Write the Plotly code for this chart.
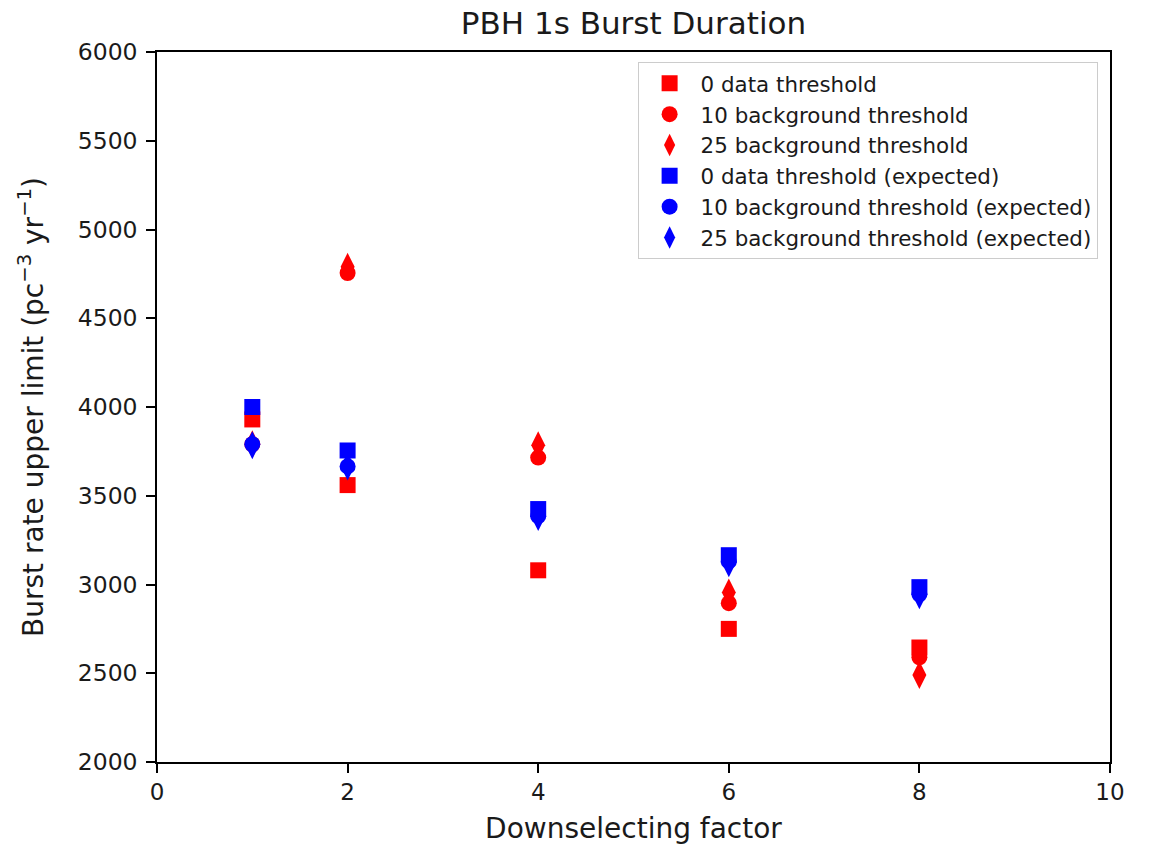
import plotly.graph_objects as go

x_vals = [1, 2, 4, 6, 8]

data_zero = [3930, 3560, 3080, 2750, 2645]
data_ten = [3790, 4755, 3715, 2895, 2590]
data_25 = [3790, 4790, 3785, 2955, 2490]
exp_zero = [4000, 3755, 3425, 3165, 2985]
exp_ten = [3790, 3665, 3385, 3130, 2945]
exp_25 = [3785, 3665, 3380, 3120, 2940]

series = [
    ("0 data threshold", data_zero, "red", "square"),
    ("10 background threshold", data_ten, "red", "circle"),
    ("25 background threshold", data_25, "red", "diamond-tall"),
    ("0 data threshold (expected)", exp_zero, "blue", "square"),
    ("10 background threshold (expected)", exp_ten, "blue", "circle"),
    ("25 background threshold (expected)", exp_25, "blue", "diamond-tall"),
]

fig = go.Figure()
for name, vals, col, sym in series:
    fig.add_trace(go.Scatter(
        x=x_vals, y=vals, mode="markers", name=name,
        marker=dict(color=col, symbol=sym, size=16 if sym != "diamond-tall" else 20,
                    line=dict(width=0)),
    ))

font = "DejaVu Sans, sans-serif"
fig.update_layout(
    width=1153, height=845,
    paper_bgcolor="white", plot_bgcolor="white",
    margin=dict(l=149, r=51, t=44, b=91),
    font=dict(family=font, size=23, color="#1a1a1a"),
    title=dict(text="PBH 1s Burst Duration", x=0.5, xanchor="center",
               xref="paper", y=1, yref="container", yanchor="top",
               pad=dict(t=4),
               font=dict(size=31, color="#1a1a1a")),
    showlegend=True,
    legend=dict(x=0.987, y=0.986, xanchor="right", yanchor="top",
                bgcolor="white", bordercolor="#cccccc", borderwidth=1,
                font=dict(size=21.4, color="#1a1a1a"), tracegroupgap=0,
                itemsizing="trace", itemwidth=52),
)
fig.update_xaxes(range=[0, 10], tickvals=[0, 2, 4, 6, 8, 10],
                 showgrid=False, zeroline=False, showline=True, linecolor="black",
                 linewidth=1.5, mirror=True, ticks="outside", ticklen=9, tickwidth=1.5,
                 tickcolor="black", title=dict(text="Downselecting factor", standoff=14),
                 tickfont=dict(size=23))
fig.update_yaxes(range=[2000, 6000], tickvals=list(range(2000, 6001, 500)),
                 showgrid=False, zeroline=False, showline=True, linecolor="black",
                 linewidth=1.5, mirror=True, ticks="outside", ticklen=9, tickwidth=1.5,
                 tickcolor="black", ticklabelstandoff=4,
                 title=dict(text="Burst rate upper limit (pc<sup>−3</sup> yr<sup>−1</sup>)", standoff=26),
                 tickfont=dict(size=23.5))
fig.write_html("out.html")
